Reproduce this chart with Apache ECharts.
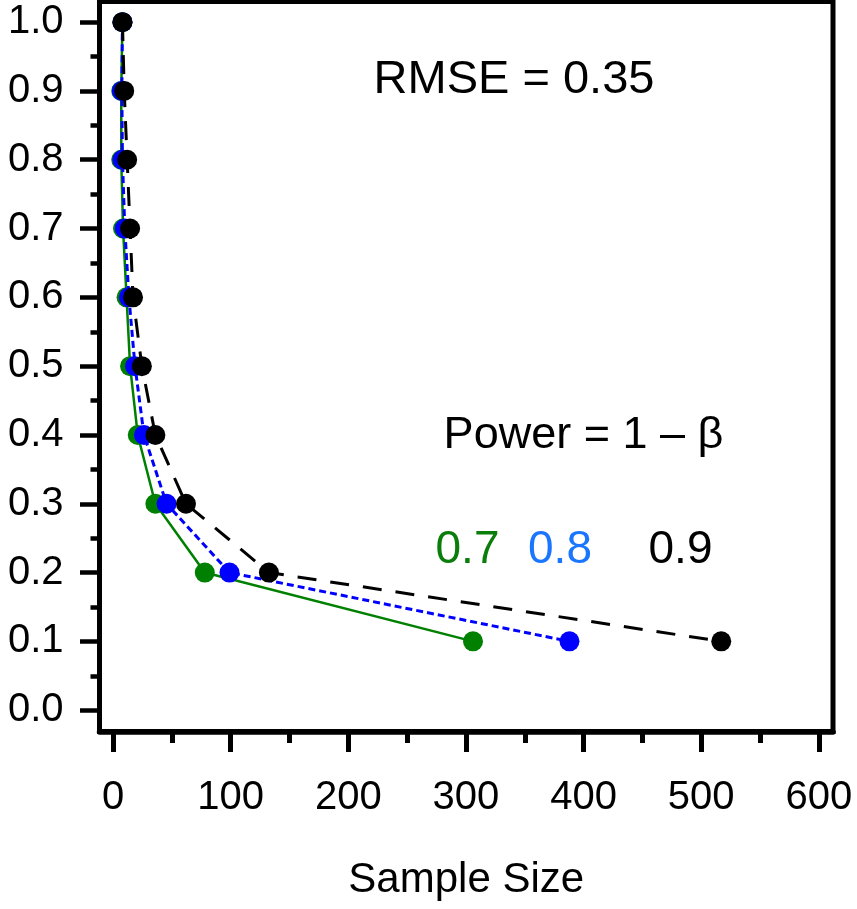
<!DOCTYPE html>
<html>
<head>
<meta charset="utf-8">
<script src="https://cdn.jsdelivr.net/npm/echarts@6/dist/echarts.min.js"></script>
<style>html,body{margin:0;padding:0;background:#fff}#c{width:857px;height:909px}</style>
</head>
<body>
<div id="c"></div>
<script>
// Effect size (y) levels
const effectSizes = [1.0, 0.9, 0.8, 0.7, 0.6, 0.5, 0.4, 0.3, 0.2, 0.1];
// Sample sizes for each power level
const power07 = [8, 7, 7, 8.5, 11.5, 14.5, 21, 36, 78, 306];
const power08 = [8, 7.5, 8, 10, 13.5, 18.7, 26.3, 45.5, 99, 388];
const power09 = [8, 9.5, 12, 14.5, 17, 24.5, 36, 62, 132.5, 517];
const seriesNames = ['0.7', '0.8', '0.9'];
const xTicks = [0, 100, 200, 300, 400, 500, 600];
const xMinorTicks = [50, 150, 250, 350, 450, 550];
const yTicks = [0, 0.1, 0.2, 0.3, 0.4, 0.5, 0.6, 0.7, 0.8, 0.9, 1.0];
const yMinorTicks = [0.05, 0.15, 0.25, 0.35, 0.45, 0.55, 0.65, 0.75, 0.85, 0.95];
const xTitle = 'Sample Size';
const rmseText = 'RMSE = 0.35';
const powerText = 'Power = 1 \u2013 \u03b2';

const FONT = '"Liberation Sans", Arial, Helvetica, sans-serif';
const colors = ['#008000', '#0000ff', '#000000'];
const labelColors = ['#0b7d0b', '#1a75ff', '#000000'];
const datasets = [power07, power08, power09];

const pairs = d => d.map((x, i) => [x, effectSizes[i]]);

const xMin = -11.5, xMax = 612, yMin = -0.031, yMax = 1.03;

const chart = echarts.init(document.getElementById('c'), null, {renderer: 'canvas'});
chart.setOption({
  animation: false,
  backgroundColor: '#fff',
  grid: {left: 99.5, right: 24, top: 1.5, bottom: 177.5, show: true, borderColor: '#000', borderWidth: 5, containLabel: false},
  xAxis: [
    {
      type: 'value', min: xMin, max: xMax, position: 'bottom',
      name: xTitle, nameLocation: 'middle', nameGap: 128,
      nameTextStyle: {fontFamily: FONT, fontSize: 42, color: '#000'},
      axisLine: {show: true, onZero: false, lineStyle: {color: '#000', width: 5.5}},
      axisTick: {show: true, inside: false, length: 20.5, customValues: xTicks, lineStyle: {color: '#000', width: 5}},
      axisLabel: {show: true, margin: 46, customValues: xTicks, fontFamily: FONT, fontSize: 40, color: '#000',
        formatter: v => String(Math.round(v))},
      splitLine: {show: false}
    },
    {
      type: 'value', min: xMin, max: xMax, position: 'bottom',
      axisLine: {show: false, onZero: false},
      axisTick: {show: true, length: 11.5, customValues: xMinorTicks, lineStyle: {color: '#000', width: 5}},
      axisLabel: {show: false},
      splitLine: {show: false}
    }
  ],
  yAxis: [
    {
      type: 'value', min: yMin, max: yMax, position: 'left',
      axisLine: {show: true, onZero: false, lineStyle: {color: '#000', width: 5}},
      axisTick: {show: true, length: 19.5, customValues: yTicks, lineStyle: {color: '#000', width: 4.5}},
      axisLabel: {show: true, margin: 36, customValues: yTicks, fontFamily: FONT, fontSize: 40, color: '#000',
        formatter: v => v.toFixed(1)},
      splitLine: {show: false}
    },
    {
      type: 'value', min: yMin, max: yMax, position: 'left',
      axisLine: {show: false, onZero: false},
      axisTick: {show: true, length: 9, customValues: yMinorTicks, lineStyle: {color: '#000', width: 4.5}},
      axisLabel: {show: false},
      splitLine: {show: false}
    }
  ],
  series: datasets.map((d, i) => ({
    name: seriesNames[i],
    type: 'line',
    xAxisIndex: 0, yAxisIndex: 0,
    data: pairs(d),
    symbol: 'circle',
    symbolSize: 20,
    showSymbol: true,
    itemStyle: {color: colors[i]},
    lineStyle: {
      color: colors[i],
      width: i === 0 ? 2.5 : 3,
      type: i === 0 ? 'solid' : (i === 1 ? [7, 4] : [19, 14])
    },
    z: 2 + i
  })),
  graphic: [
    {type: 'text', x: 514, y: 80, style: {text: rmseText, fontFamily: FONT, fontSize: 47, fill: '#000', align: 'center', verticalAlign: 'middle'}},
    {type: 'text', x: 583.5, y: 436, style: {text: powerText, fontFamily: FONT, fontSize: 45, fill: '#000', align: 'center', verticalAlign: 'middle'}},
    {type: 'text', x: 467.5, y: 550, style: {text: seriesNames[0], fontFamily: FONT, fontSize: 46, fill: labelColors[0], align: 'center', verticalAlign: 'middle'}},
    {type: 'text', x: 560, y: 550, style: {text: seriesNames[1], fontFamily: FONT, fontSize: 46, fill: labelColors[1], align: 'center', verticalAlign: 'middle'}},
    {type: 'text', x: 680.5, y: 550, style: {text: seriesNames[2], fontFamily: FONT, fontSize: 46, fill: labelColors[2], align: 'center', verticalAlign: 'middle'}}
  ]
});
</script>
</body>
</html>
